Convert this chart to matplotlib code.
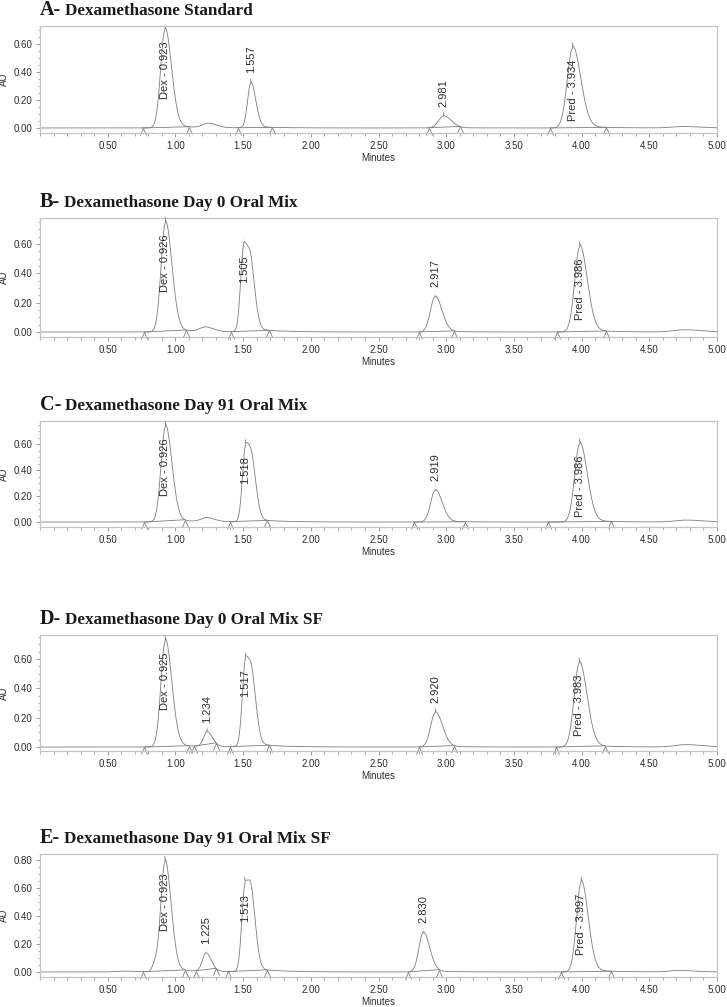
import numpy as np
import matplotlib
matplotlib.use("Agg")
import matplotlib.pyplot as plt
from matplotlib.path import Path
from matplotlib.ticker import MultipleLocator, FormatStrFormatter

# ---- data ----
letters = ["A-", "B-", "C-", "D-", "E-"]
titles = ["Dexamethasone Standard",
          "Dexamethasone Day 0 Oral Mix",
          "Dexamethasone Day 91 Oral Mix",
          "Dexamethasone Day 0 Oral Mix SF",
          "Dexamethasone Day 91 Oral Mix SF"]
x_ticks = [0.50, 1.00, 1.50, 2.00, 2.50, 3.00, 3.50, 4.00, 4.50, 5.00]

# retention time (min), height (AU), width (min), label
A_rt = [0.923, 1.24, 1.557, 2.981, 3.934, 4.75]
A_h = [0.70, 0.03, 0.32, 0.085, 0.57, 0.01]
A_w = [0.032, 0.04, 0.024, 0.038, 0.040, 0.08]
A_lab = ["Dex - 0.923", "", "1.557", "2.981", "Pred - 3.934", ""]
A_bounds = [(0.76, 1.10), (1.46, 1.71), (2.87, 3.10), (3.77, 4.18)]

B_rt = [0.926, 1.22, 1.505, 1.56, 2.917, 3.986, 4.76]
B_h = [0.74, 0.03, 0.58, 0.33, 0.24, 0.58, 0.015]
B_w = [0.032, 0.04, 0.023, 0.022, 0.034, 0.037, 0.08]
B_lab = ["Dex - 0.926", "", "1.505", "", "2.917", "Pred - 3.986", ""]
B_bounds = [(0.77, 1.08), (1.41, 1.69), (2.80, 3.06), (3.82, 4.18)]

C_rt = [0.926, 1.23, 1.518, 1.57, 2.919, 3.986, 4.77]
C_h = [0.73, 0.03, 0.57, 0.30, 0.245, 0.60, 0.015]
C_w = [0.032, 0.04, 0.023, 0.022, 0.034, 0.037, 0.08]
C_lab = ["Dex - 0.926", "", "1.518", "", "2.919", "Pred - 3.986", ""]
C_bounds = [(0.77, 1.07), (1.40, 1.68), (2.76, 3.14), (3.75, 4.22)]

D_rt = [0.925, 1.234, 1.517, 1.57, 2.920, 3.983, 4.77]
D_h = [0.72, 0.10, 0.58, 0.32, 0.235, 0.57, 0.016]
D_w = [0.032, 0.026, 0.023, 0.022, 0.035, 0.038, 0.08]
D_lab = ["Dex - 0.925", "1.234", "1.517", "", "2.920", "Pred - 3.983", ""]
D_bounds = [(0.77, 1.10), (1.14, 1.30), (1.40, 1.69), (2.80, 3.06), (3.81, 4.17)]

E_rt = [0.62, 0.85, 0.923, 1.225, 1.513, 1.565, 2.830, 3.997, 4.72]
E_h = [0.006, 0.06, 0.78, 0.13, 0.60, 0.38, 0.28, 0.64, 0.01]
E_w = [0.06, 0.02, 0.030, 0.026, 0.023, 0.022, 0.032, 0.034, 0.07]
E_lab = ["", "", "Dex - 0.923", "1.225", "1.513", "", "2.830", "Pred - 3.997", ""]
E_bounds = [(0.76, 1.07), (1.15, 1.30), (1.39, 1.68), (2.72, 2.95), (3.85, 4.22)]

panel_data = [(A_rt, A_h, A_w, A_lab, A_bounds),
              (B_rt, B_h, B_w, B_lab, B_bounds),
              (C_rt, C_h, C_w, C_lab, C_bounds),
              (D_rt, D_h, D_w, D_lab, D_bounds),
              (E_rt, E_h, E_w, E_lab, E_bounds)]

# ---- layout (pixels) ----
W, H = 727, 1007
axes_px = [(26, 133), (218, 337), (421, 527), (635, 751), (854, 977)]
ylims = [(-0.036, 0.729), (-0.034, 0.777), (-0.038, 0.777), (-0.027, 0.764), (-0.036, 0.843)]
LEFT, RIGHT = 40, 717

LINE = "#7d7d7d"
SPINE = "#c4c4c4"
TXT = "#2e2e2e"
SANS = ["Liberation Sans", "DejaVu Sans"]
SERIF = ["Liberation Serif", "DejaVu Serif"]

caret = Path([(-0.45, -1.0), (0.0, 0.0), (0.45, -1.0)],
             [Path.MOVETO, Path.LINETO, Path.LINETO])


def trace(t, rts, hs, ws):
    y = np.zeros_like(t)
    for rt, h, w in zip(rts, hs, ws):
        s = np.where(t < rt, w, w * 1.5)
        y += h * np.exp(-0.5 * ((t - rt) / s) ** 2)
        # slow tail
        y += np.where(t > rt, 0.03 * h * np.exp(-(t - rt) / 0.18), 0.0)
    return y


fig = plt.figure(figsize=(W / 100, H / 100), dpi=100)
renderer = fig.canvas.get_renderer()
t = np.linspace(0.0, 5.0, 4000)

for i, (rts, hs, ws, labs, bounds) in enumerate(panel_data):
    top, bot = axes_px[i]
    ax = fig.add_axes([LEFT / W, 1 - bot / H, (RIGHT - LEFT) / W, (bot - top) / H])
    y = trace(t, rts, hs, ws)
    ax.plot(t, y, color=LINE, lw=0.6)

    # integration baselines with caret markers
    for t0, t1 in bounds:
        y0 = trace(np.array([t0]), rts, hs, ws)[0]
        y1 = trace(np.array([t1]), rts, hs, ws)[0]
        ax.plot([t0, t1], [y0, y1], color=LINE, lw=0.6)
        ax.plot([t0, t1], [y0, y1], ls="none", marker=caret, ms=10,
                mfc="none", mec=LINE, mew=0.6, clip_on=False)

    ax.set_xticks(x_ticks)
    ax.xaxis.set_minor_locator(MultipleLocator(0.1))
    ax.yaxis.set_major_locator(MultipleLocator(0.2))
    ax.yaxis.set_minor_locator(MultipleLocator(0.05))
    ax.xaxis.set_major_formatter(FormatStrFormatter("%.2f"))
    ax.yaxis.set_major_formatter(FormatStrFormatter("%.2f"))
    ax.set_xlim(0, 5.0)
    ax.set_ylim(*ylims[i])
    ax.tick_params(which="major", length=3, width=0.6, color="#8c8c8c",
                   labelsize=7, labelcolor=TXT, pad=2.5)
    ax.tick_params(which="minor", length=1.8, width=0.5, color="#8c8c8c")
    for lbl in ax.get_xticklabels() + ax.get_yticklabels():
        lbl.set_family(SANS)
    for sp in ax.spines.values():
        sp.set_color(SPINE)
        sp.set_linewidth(0.9)
    ax.set_xlabel("Minutes", fontsize=7, family=SANS, color=TXT, labelpad=1.5)
    ax.set_ylabel("AU", fontsize=7, family=SANS, color=TXT)
    ax.yaxis.set_label_coords(-0.046, 0.5)

    # peak labels
    fig.canvas.draw()
    axbb = ax.get_window_extent(renderer)
    ytop = ylims[i][1]
    for rt, lab in zip(rts, labs):
        if not lab:
            continue
        near = (t > rt - 0.02) & (t < rt + 0.02)
        yp = y[near].max()
        ax.annotate("", xy=(rt, min(yp, ytop)), xytext=(0, 4), textcoords="offset points",
                    arrowprops=dict(arrowstyle="-", color=LINE, lw=0.6),
                    annotation_clip=False)
        ann = ax.annotate(lab, xy=(rt, yp), xytext=(0, 6), textcoords="offset points",
                          rotation=90, ha="center", va="bottom", fontsize=8,
                          family=SANS, color=TXT, annotation_clip=False)
        bb = ann.get_window_extent(renderer)
        if bb.y1 > axbb.y1:
            ann.set_va("top")
            ann.xyann = (0, -10)

    # title: big letter + smaller text
    ty = 1 - (top - 11) / H
    let = fig.text(LEFT / W, ty, letters[i], fontsize=14.5, fontweight="bold",
                   family=SERIF, color="#1a1a1a", va="baseline")
    lw_px = let.get_window_extent(renderer).width
    fig.text((LEFT + lw_px + 4) / W, ty, titles[i], fontsize=12.3, fontweight="bold",
             family=SERIF, color="#1a1a1a", va="baseline")

fig.savefig("out.png", dpi=100)
